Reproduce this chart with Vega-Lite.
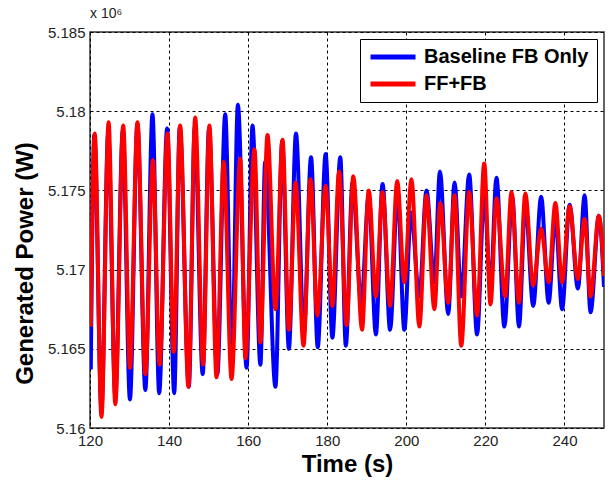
{
  "$schema": "https://vega.github.io/schema/vega-lite/v6.json",
  "width": 514,
  "height": 396,
  "autosize": "none",
  "padding": {"left": 90, "top": 32, "right": 6, "bottom": 55},
  "background": "white",
  "title": {"text": "x 10⁶", "frame": "group", "anchor": "start", "fontSize": 14, "fontWeight": "normal", "font": "Liberation Sans", "offset": 4, "color": "#222222"},
  "config": {
    "font": "Liberation Sans",
    "view": {"stroke": "#333333", "strokeWidth": 1.5},
    "axis": {"grid": true, "gridColor": "#000000", "gridDash": [3, 3], "gridWidth": 1, "gridOpacity": 1, "domain": false, "ticks": false, "labelFlush": false, "labelFontSize": 15, "labelColor": "#222222", "labelFont": "Liberation Sans", "titleFont": "Liberation Sans", "titleFontSize": 24, "titleFontWeight": "bold", "titleColor": "#000000"},
    "legend": {"orient": "top-right", "offset": 7, "strokeColor": "#000000", "fillColor": "#ffffff", "padding": 8, "symbolType": "stroke", "symbolSize": 2025, "symbolStrokeWidth": 5, "clipHeight": 20, "rowPadding": 7, "labelFontSize": 20, "labelFontWeight": "bold", "labelColor": "#000000", "labelFont": "Liberation Sans", "labelOffset": 6, "labelLimit": 400, "title": null}
  },
  "data": {"values": [
    {"t":120.2,"p":5163700,"s":"Baseline FB Only"},{"t":121.1,"p":5178500,"s":"Baseline FB Only"},{"t":122.9,"p":5161200,"s":"Baseline FB Only"},{"t":124.6,"p":5178600,"s":"Baseline FB Only"},{"t":126.4,"p":5162000,"s":"Baseline FB Only"},{"t":128.3,"p":5178800,"s":"Baseline FB Only"},{"t":130.1,"p":5161800,"s":"Baseline FB Only"},{"t":132.0,"p":5179200,"s":"Baseline FB Only"},{"t":134.0,"p":5162400,"s":"Baseline FB Only"},{"t":135.8,"p":5179800,"s":"Baseline FB Only"},{"t":137.5,"p":5162200,"s":"Baseline FB Only"},{"t":139.5,"p":5178900,"s":"Baseline FB Only"},{"t":141.3,"p":5162200,"s":"Baseline FB Only"},{"t":142.7,"p":5179000,"s":"Baseline FB Only"},{"t":145.0,"p":5162600,"s":"Baseline FB Only"},{"t":146.5,"p":5179000,"s":"Baseline FB Only"},{"t":148.5,"p":5163400,"s":"Baseline FB Only"},{"t":150.1,"p":5178900,"s":"Baseline FB Only"},{"t":152.2,"p":5163400,"s":"Baseline FB Only"},{"t":154.2,"p":5179800,"s":"Baseline FB Only"},{"t":155.9,"p":5164100,"s":"Baseline FB Only"},{"t":157.4,"p":5180400,"s":"Baseline FB Only"},{"t":159.6,"p":5163800,"s":"Baseline FB Only"},{"t":161.1,"p":5179100,"s":"Baseline FB Only"},{"t":163.1,"p":5164000,"s":"Baseline FB Only"},{"t":164.3,"p":5176800,"s":"Baseline FB Only"},{"t":166.9,"p":5162600,"s":"Baseline FB Only"},{"t":168.6,"p":5178100,"s":"Baseline FB Only"},{"t":170.3,"p":5165000,"s":"Baseline FB Only"},{"t":172.1,"p":5178600,"s":"Baseline FB Only"},{"t":174.1,"p":5166000,"s":"Baseline FB Only"},{"t":175.9,"p":5177100,"s":"Baseline FB Only"},{"t":177.6,"p":5165100,"s":"Baseline FB Only"},{"t":179.6,"p":5177300,"s":"Baseline FB Only"},{"t":181.3,"p":5165700,"s":"Baseline FB Only"},{"t":183.3,"p":5177100,"s":"Baseline FB Only"},{"t":184.7,"p":5165200,"s":"Baseline FB Only"},{"t":186.4,"p":5175500,"s":"Baseline FB Only"},{"t":188.6,"p":5167900,"s":"Baseline FB Only"},{"t":190.5,"p":5174700,"s":"Baseline FB Only"},{"t":192.3,"p":5165900,"s":"Baseline FB Only"},{"t":194.0,"p":5175400,"s":"Baseline FB Only"},{"t":195.9,"p":5166200,"s":"Baseline FB Only"},{"t":197.8,"p":5174900,"s":"Baseline FB Only"},{"t":199.5,"p":5166200,"s":"Baseline FB Only"},{"t":201.2,"p":5173600,"s":"Baseline FB Only"},{"t":203.3,"p":5168300,"s":"Baseline FB Only"},{"t":205.1,"p":5175000,"s":"Baseline FB Only"},{"t":207.1,"p":5169200,"s":"Baseline FB Only"},{"t":208.5,"p":5176200,"s":"Baseline FB Only"},{"t":210.6,"p":5167200,"s":"Baseline FB Only"},{"t":212.2,"p":5175500,"s":"Baseline FB Only"},{"t":213.9,"p":5168300,"s":"Baseline FB Only"},{"t":215.9,"p":5176000,"s":"Baseline FB Only"},{"t":217.9,"p":5165900,"s":"Baseline FB Only"},{"t":219.7,"p":5174700,"s":"Baseline FB Only"},{"t":221.3,"p":5168800,"s":"Baseline FB Only"},{"t":222.8,"p":5175800,"s":"Baseline FB Only"},{"t":224.8,"p":5166400,"s":"Baseline FB Only"},{"t":226.8,"p":5174600,"s":"Baseline FB Only"},{"t":228.5,"p":5166400,"s":"Baseline FB Only"},{"t":230.1,"p":5174200,"s":"Baseline FB Only"},{"t":232.1,"p":5167700,"s":"Baseline FB Only"},{"t":234.1,"p":5174600,"s":"Baseline FB Only"},{"t":236.0,"p":5167900,"s":"Baseline FB Only"},{"t":237.7,"p":5173400,"s":"Baseline FB Only"},{"t":239.4,"p":5167500,"s":"Baseline FB Only"},{"t":241.3,"p":5174100,"s":"Baseline FB Only"},{"t":243.4,"p":5168800,"s":"Baseline FB Only"},{"t":245.1,"p":5174700,"s":"Baseline FB Only"},{"t":246.6,"p":5167300,"s":"Baseline FB Only"},{"t":248.7,"p":5173400,"s":"Baseline FB Only"},{"t":250.0,"p":5168900,"s":"Baseline FB Only"},
    {"t":120.2,"p":5166400,"s":"FF+FB"},{"t":121.2,"p":5178600,"s":"FF+FB"},{"t":122.9,"p":5160700,"s":"FF+FB"},{"t":124.7,"p":5179300,"s":"FF+FB"},{"t":126.4,"p":5161500,"s":"FF+FB"},{"t":128.4,"p":5179100,"s":"FF+FB"},{"t":130.1,"p":5163800,"s":"FF+FB"},{"t":132.0,"p":5179300,"s":"FF+FB"},{"t":134.0,"p":5163400,"s":"FF+FB"},{"t":135.9,"p":5176900,"s":"FF+FB"},{"t":137.6,"p":5164000,"s":"FF+FB"},{"t":139.6,"p":5178600,"s":"FF+FB"},{"t":141.2,"p":5164800,"s":"FF+FB"},{"t":142.8,"p":5179100,"s":"FF+FB"},{"t":144.9,"p":5162600,"s":"FF+FB"},{"t":146.6,"p":5179600,"s":"FF+FB"},{"t":148.6,"p":5164000,"s":"FF+FB"},{"t":150.2,"p":5179100,"s":"FF+FB"},{"t":152.0,"p":5163200,"s":"FF+FB"},{"t":153.8,"p":5176800,"s":"FF+FB"},{"t":155.8,"p":5163100,"s":"FF+FB"},{"t":158.0,"p":5177000,"s":"FF+FB"},{"t":159.3,"p":5164400,"s":"FF+FB"},{"t":161.6,"p":5177600,"s":"FF+FB"},{"t":163.1,"p":5165400,"s":"FF+FB"},{"t":164.9,"p":5178500,"s":"FF+FB"},{"t":166.9,"p":5167500,"s":"FF+FB"},{"t":168.7,"p":5178200,"s":"FF+FB"},{"t":170.3,"p":5166200,"s":"FF+FB"},{"t":172.0,"p":5175500,"s":"FF+FB"},{"t":174.0,"p":5165200,"s":"FF+FB"},{"t":175.8,"p":5175700,"s":"FF+FB"},{"t":177.5,"p":5167100,"s":"FF+FB"},{"t":179.6,"p":5175300,"s":"FF+FB"},{"t":181.3,"p":5167700,"s":"FF+FB"},{"t":183.0,"p":5176200,"s":"FF+FB"},{"t":184.9,"p":5166500,"s":"FF+FB"},{"t":186.6,"p":5175900,"s":"FF+FB"},{"t":188.8,"p":5166200,"s":"FF+FB"},{"t":190.5,"p":5175000,"s":"FF+FB"},{"t":192.3,"p":5168300,"s":"FF+FB"},{"t":194.0,"p":5174900,"s":"FF+FB"},{"t":195.9,"p":5167700,"s":"FF+FB"},{"t":197.7,"p":5175600,"s":"FF+FB"},{"t":199.5,"p":5169200,"s":"FF+FB"},{"t":201.3,"p":5175700,"s":"FF+FB"},{"t":203.3,"p":5166400,"s":"FF+FB"},{"t":205.1,"p":5174700,"s":"FF+FB"},{"t":207.1,"p":5167500,"s":"FF+FB"},{"t":208.6,"p":5174200,"s":"FF+FB"},{"t":210.6,"p":5167900,"s":"FF+FB"},{"t":212.2,"p":5174700,"s":"FF+FB"},{"t":213.9,"p":5165200,"s":"FF+FB"},{"t":215.9,"p":5174900,"s":"FF+FB"},{"t":217.9,"p":5167100,"s":"FF+FB"},{"t":219.7,"p":5176700,"s":"FF+FB"},{"t":221.3,"p":5167800,"s":"FF+FB"},{"t":222.8,"p":5174500,"s":"FF+FB"},{"t":225.0,"p":5168300,"s":"FF+FB"},{"t":226.6,"p":5174900,"s":"FF+FB"},{"t":228.5,"p":5167900,"s":"FF+FB"},{"t":230.1,"p":5174800,"s":"FF+FB"},{"t":232.1,"p":5169000,"s":"FF+FB"},{"t":234.1,"p":5172600,"s":"FF+FB"},{"t":236.0,"p":5169200,"s":"FF+FB"},{"t":237.7,"p":5174200,"s":"FF+FB"},{"t":239.4,"p":5169200,"s":"FF+FB"},{"t":241.3,"p":5174000,"s":"FF+FB"},{"t":243.4,"p":5169400,"s":"FF+FB"},{"t":245.1,"p":5173200,"s":"FF+FB"},{"t":246.6,"p":5168300,"s":"FF+FB"},{"t":248.7,"p":5173400,"s":"FF+FB"},{"t":250.0,"p":5169600,"s":"FF+FB"}
  ]},
  "encoding": {
    "x": {"field": "t", "type": "quantitative", "scale": {"domain": [120, 250], "nice": false, "zero": false}, "axis": {"values": [120, 140, 160, 180, 200, 220, 240], "title": "Time (s)", "labelPadding": 5, "titlePadding": 4}},
    "y": {"field": "p", "type": "quantitative", "scale": {"domain": [5160000, 5185000], "nice": false, "zero": false}, "axis": {"values": [5160000, 5165000, 5170000, 5175000, 5180000, 5185000], "labelExpr": "format(datum.value / 1000000, '~g')", "title": "Generated Power (W)", "labelPadding": 5, "titlePadding": 10, "titleY": 231}},
    "color": {"field": "s", "type": "nominal", "scale": {"domain": ["Baseline FB Only", "FF+FB"], "range": ["#0000ff", "#ff0000"]}}
  },
  "layer": [
    {"transform": [{"filter": "datum.s === 'Baseline FB Only'"}], "mark": {"type": "line", "strokeWidth": 4, "interpolate": "monotone", "clip": true}},
    {"transform": [{"filter": "datum.s === 'FF+FB'"}], "mark": {"type": "line", "strokeWidth": 4, "interpolate": "monotone", "clip": true}}
  ]
}
